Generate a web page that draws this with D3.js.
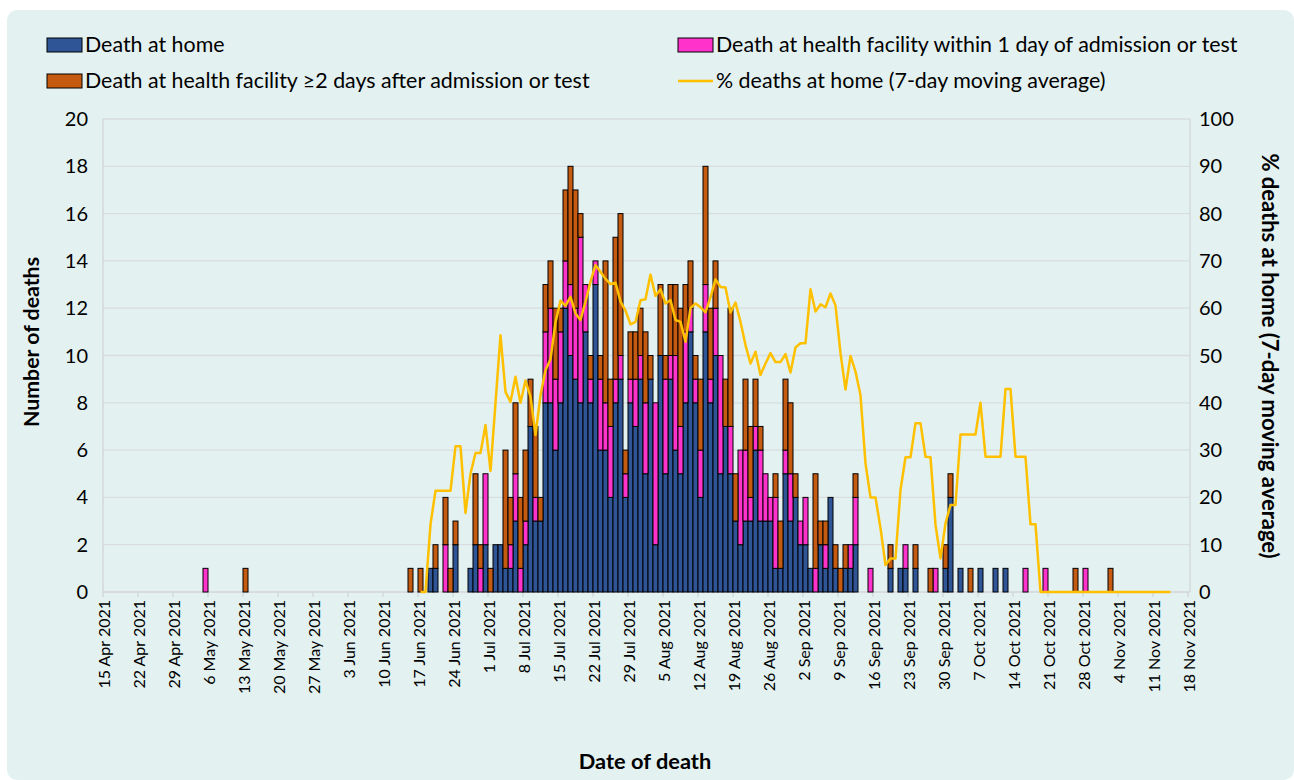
<!DOCTYPE html>
<html>
<head>
<meta charset="utf-8">
<script src="https://cdn.jsdelivr.net/npm/d3@7"></script>
<style>
  body { margin: 0; background: #ffffff; }
  svg { display: block; font-family: Lato, 'Open Sans', sans-serif; }
</style>
</head>
<body>
<div id="container"></div>
<script>
// ---- data ----
const barDates = [
  '2021-05-05','2021-05-13','2021-06-15','2021-06-17','2021-06-19','2021-06-20','2021-06-22','2021-06-23',
  '2021-06-24','2021-06-27','2021-06-28','2021-06-29','2021-06-30',
  '2021-07-01','2021-07-02','2021-07-03','2021-07-04','2021-07-05','2021-07-06','2021-07-07','2021-07-08',
  '2021-07-09','2021-07-10','2021-07-11','2021-07-12','2021-07-13','2021-07-14','2021-07-15','2021-07-16',
  '2021-07-17','2021-07-18','2021-07-19','2021-07-20','2021-07-21','2021-07-22','2021-07-23','2021-07-24',
  '2021-07-25','2021-07-26','2021-07-27','2021-07-28','2021-07-29','2021-07-30','2021-07-31',
  '2021-08-01','2021-08-02','2021-08-03','2021-08-04','2021-08-05','2021-08-06','2021-08-07','2021-08-08',
  '2021-08-09','2021-08-10','2021-08-11','2021-08-12','2021-08-13','2021-08-14','2021-08-15','2021-08-16',
  '2021-08-17','2021-08-18','2021-08-19','2021-08-20','2021-08-21','2021-08-22','2021-08-23','2021-08-24',
  '2021-08-25','2021-08-26','2021-08-27','2021-08-28','2021-08-29','2021-08-30','2021-08-31',
  '2021-09-01','2021-09-02','2021-09-03','2021-09-04','2021-09-05','2021-09-06','2021-09-07','2021-09-08',
  '2021-09-09','2021-09-10','2021-09-11','2021-09-12','2021-09-15','2021-09-19','2021-09-21','2021-09-22',
  '2021-09-24','2021-09-27','2021-09-28','2021-09-30',
  '2021-10-01','2021-10-03','2021-10-05','2021-10-07','2021-10-10','2021-10-12','2021-10-16','2021-10-20',
  '2021-10-26','2021-10-28','2021-11-02'
];
const deathHome = [
  0,0,0,0,1,1,0,0, 2,1,2,0,2,
  0,2,2,1,1,3,0,2, 7,3,3,8,8,6,8,12, 10,9,8,11,8,13,6,6, 4,8,9,4,8,7,9,
  5,9,2,10,5,9,6,5, 8,11,8,4,11,8,10,5, 7,5,3,2,3,3,6,3, 3,3,1,1,5,3,4,
  2,2,1,0,2,1,4,1, 0,1,1,2,0,1,1,1, 1,0,0,1,
  4,1,0,1,1,1,0,0, 0,0,0
];
const deathFacility1 = [
  1,0,0,0,0,0,2,0, 0,0,0,1,3,
  0,0,0,0,1,2,1,1, 0,1,0,3,4,3,3,2, 3,3,7,2,1,1,3,2, 3,1,1,1,1,2,1,
  3,0,6,0,4,1,4,2, 3,1,1,2,2,1,2,5, 0,2,0,4,3,1,1,3, 2,1,3,0,1,2,0,
  1,2,0,1,0,1,0,0, 0,0,1,2,1,0,0,1, 0,0,1,0,
  0,0,0,0,0,0,1,1, 0,1,0
];
const deathFacility2 = [
  0,1,1,1,0,1,2,1, 1,0,3,1,0,
  1,0,0,5,2,3,3,3, 2,3,1,2,2,3,1,3, 5,5,1,0,1,0,1,6, 2,6,6,1,2,2,2,
  3,1,0,3,1,3,3,5, 2,2,1,3,5,3,2,0, 2,5,2,0,3,3,2,1, 0,0,1,2,3,3,1,
  0,0,0,4,1,1,0,1, 1,1,0,1,0,1,0,0, 1,1,0,1,
  1,0,1,0,0,0,0,0, 1,0,1
];
// 7-day moving average, one value per day from 17 Jun 2021 to 14 Nov 2021
const lineStart = '2021-06-17';
const pctHome = [
  0,0,14.3,21.4,21.4,21.4,21.4,30.8,30.8,16.7,25,29.4,29.4,35.3,25.6,40,
  54.3,42.3,40.2,45.5,40,44.7,41.3,33.2,41.6,46.9,49.2,57,61.6,60.5,62.4,58.9,
  57.5,61.4,65.6,69.1,67.7,66.2,65.1,65.4,61.4,59.5,56.6,57.1,61.7,61.9,67.1,62.6,
  64,61,61.7,57.5,57.1,52.9,60,61,60.2,59.1,62.3,66.1,64.5,64.4,59.1,61.2,
  57.1,52.2,48.3,50.8,45.9,48.3,50.5,48.6,48.6,50.3,46.4,51.7,52.6,52.6,64,59.3,
  60.8,60.2,63.1,60.6,50.5,42.8,49.9,46.6,41.6,27.2,20,20,13.5,5.7,7.1,7.1,
  21.6,28.5,28.5,35.7,35.7,28.6,28.5,14.2,7.1,14.5,18.4,18.4,33.3,33.3,33.3,33.3,
  40,28.6,28.6,28.6,28.6,42.9,42.9,28.6,28.6,28.6,14.3,14.3,
  0,0,0,0,0,0,0,0,0,0,0,0,0,0,0,0,0,0,0,0,0,0,0,0,0,0,0
];
const leftTicks = [0,2,4,6,8,10,12,14,16,18,20];
const rightTicks = [0,10,20,30,40,50,60,70,80,90,100];
const seriesNames = [
  'Death at home',
  'Death at health facility within 1 day of admission or test',
  'Death at health facility \u22652 days after admission or test',
  '% deaths at home (7-day moving average)'
];
const seriesColors = ['#2f5597', '#ff33cc', '#c55a11', '#ffc000'];

// ---- chart ----
const W = 1294, H = 780;
const plot = { left: 103, right: 1190, top: 119, bottom: 592 };
const parse = d3.utcParse('%Y-%m-%d');
const fmt = d3.utcFormat('%-d %b %Y');

const svg = d3.select('#container').append('svg')
  .attr('width', W).attr('height', H);

svg.append('rect')
  .attr('x', 7).attr('y', 10).attr('width', W - 7).attr('height', H - 10)
  .attr('rx', 10).attr('fill', '#e3f1f0');

const start = parse('2021-04-15'), end = parse('2021-11-18');
const x = d3.scaleUtc().domain([start, end]).range([plot.left, plot.left + 5 * 217]);
const y = d3.scaleLinear().domain([0, 20]).range([plot.bottom, plot.top]);
const y2 = d3.scaleLinear().domain([0, 100]).range([plot.bottom, plot.top]);

// gridlines
svg.append('g').selectAll('line').data(leftTicks.slice(1)).join('line')
  .attr('x1', plot.left).attr('x2', plot.right)
  .attr('y1', d => y(d)).attr('y2', d => y(d))
  .attr('stroke', '#d9dde0').attr('stroke-width', 1.3);

// axes lines
const axisCol = '#d3d6d9';
svg.append('line').attr('x1', plot.left).attr('x2', plot.left)
  .attr('y1', plot.top).attr('y2', plot.bottom).attr('stroke', axisCol).attr('stroke-width', 1.3);
svg.append('line').attr('x1', plot.right).attr('x2', plot.right)
  .attr('y1', plot.top).attr('y2', plot.bottom).attr('stroke', axisCol).attr('stroke-width', 1.3);
svg.append('line').attr('x1', plot.left).attr('x2', plot.right)
  .attr('y1', plot.bottom).attr('y2', plot.bottom).attr('stroke', axisCol).attr('stroke-width', 1.3);

// x ticks every 7 days
const xTicks = d3.utcDay.range(start, d3.utcDay.offset(end, 1), 7);
svg.append('g').selectAll('line').data(xTicks).join('line')
  .attr('x1', d => x(d)).attr('x2', d => x(d))
  .attr('y1', plot.bottom).attr('y2', plot.bottom + 5)
  .attr('stroke', axisCol).attr('stroke-width', 1.3);
svg.append('g').selectAll('text').data(xTicks).join('text')
  .attr('transform', d => `translate(${x(d) + 1},${plot.bottom + 8}) rotate(-90)`)
  .attr('text-anchor', 'end').attr('dy', '0.35em')
  .attr('font-size', 16).attr('fill', '#000')
  .text(d => fmt(d));

// y tick labels
svg.append('g').selectAll('text').data(leftTicks).join('text')
  .attr('x', 88).attr('y', d => y(d)).attr('dy', '0.35em')
  .attr('text-anchor', 'end').attr('font-size', 20).text(d => d);
svg.append('g').selectAll('text').data(rightTicks).join('text')
  .attr('x', 1199).attr('y', d => y2(d)).attr('dy', '0.35em')
  .attr('text-anchor', 'start').attr('font-size', 20).text(d => d);

// stacked bars
const rows = barDates.map((d, i) => ({
  date: parse(d), home: deathHome[i], fac1: deathFacility1[i], fac2: deathFacility2[i]
}));
const stack = d3.stack().keys(['home', 'fac1', 'fac2'])(rows);
svg.append('g').selectAll('g').data(stack).join('g')
  .attr('fill', (d, i) => seriesColors[i])
  .selectAll('rect').data(d => d.filter(s => s[1] > s[0])).join('rect')
  .attr('x', d => x(d.data.date))
  .attr('width', d => x(d3.utcDay.offset(d.data.date, 1)) - x(d.data.date))
  .attr('y', d => y(d[1]))
  .attr('height', d => y(d[0]) - y(d[1]))
  .attr('stroke', '#000').attr('stroke-width', 1);

// moving average line
const lineDates = d3.utcDay.range(parse(lineStart), d3.utcDay.offset(parse(lineStart), pctHome.length));
const line = d3.line()
  .x((d, i) => x(lineDates[i]) + 2.5)
  .y(d => y2(d));
svg.append('path').datum(pctHome)
  .attr('d', line).attr('fill', 'none')
  .attr('stroke', seriesColors[3]).attr('stroke-width', 2.5)
  .attr('stroke-linejoin', 'round');

// legend
const legend = [
  { x: 47, y: 45, type: 'rect', i: 0 },
  { x: 678, y: 45, type: 'rect', i: 1 },
  { x: 47, y: 81, type: 'rect', i: 2 },
  { x: 678, y: 81, type: 'line', i: 3 }
];
const lg = svg.append('g');
legend.forEach(l => {
  if (l.type === 'rect') {
    lg.append('rect').attr('x', l.x).attr('y', l.y - 7).attr('width', 35).attr('height', 14)
      .attr('fill', seriesColors[l.i]).attr('stroke', '#000').attr('stroke-width', 1);
  } else {
    lg.append('line').attr('x1', l.x).attr('x2', l.x + 35).attr('y1', l.y).attr('y2', l.y)
      .attr('stroke', seriesColors[l.i]).attr('stroke-width', 2.5);
  }
  lg.append('text').attr('x', l.x + 38).attr('y', l.y).attr('dy', '0.35em')
    .attr('font-size', 21.4).text(seriesNames[l.i]);
});

// titles
svg.append('text')
  .attr('transform', 'translate(32,342) rotate(-90)')
  .attr('text-anchor', 'middle').attr('dy', '0.35em')
  .attr('font-size', 21.3).attr('font-weight', 'bold').text('Number of deaths');
svg.append('text')
  .attr('transform', 'translate(1270,356) rotate(90)')
  .attr('text-anchor', 'middle').attr('dy', '0.35em')
  .attr('font-size', 22).attr('font-weight', 'bold').text('% deaths at home (7-day moving average)');
svg.append('text')
  .attr('x', 645).attr('y', 761).attr('dy', '0.35em')
  .attr('text-anchor', 'middle')
  .attr('font-size', 21.8).attr('font-weight', 'bold').text('Date of death');
</script>
</body>
</html>
